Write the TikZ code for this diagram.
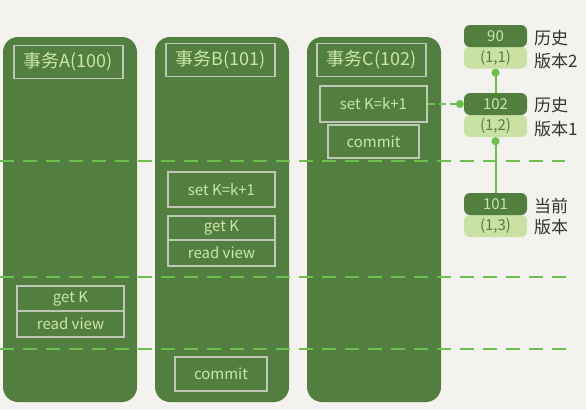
\documentclass[tikz,border=0pt]{standalone}
\usepackage{fontspec}
\setmainfont{Noto Sans CJK SC}
\usetikzlibrary{arrows.meta}
\definecolor{bg}{HTML}{F3F2EE}
\definecolor{colg}{HTML}{527F40}
\definecolor{dashg}{HTML}{6DBF4F}
\definecolor{lightt}{HTML}{CBE6A6}
\definecolor{boxline}{HTML}{BFC8B6}
\definecolor{verl}{HTML}{C9E1A3}
\definecolor{labelt}{HTML}{333333}
\begin{document}
\begin{tikzpicture}[x=1pt,y=-1pt,
  colbox/.style={fill=colg, rounded corners=15pt, minimum width=134pt, minimum height=365pt, inner sep=0pt},
  tbox/.style={draw=boxline, line width=1.3pt, text=lightt, inner sep=0pt, font=\fontsize{15}{17}\selectfont},
  titlebox/.style={tbox, minimum width=109pt, minimum height=33pt, font=\fontsize{18}{20}\selectfont},
  sepline/.style={draw=dashg, line width=1.8pt, dash pattern=on 14pt off 9pt},
  verdark/.style={fill=colg, text=lightt, rounded corners=6pt, minimum width=63pt, minimum height=22pt, inner sep=0pt, font=\fontsize{15}{16}\selectfont},
  verlight/.style={fill=verl, text=colg, rounded corners=6pt, minimum width=63pt, minimum height=22pt, inner sep=0pt, font=\fontsize{15}{16}\selectfont},
  verlabel/.style={anchor=west, text=labelt, inner sep=0pt, font=\fontsize{17}{19}\selectfont},
  conn/.style={draw=dashg, line width=2pt, -{Circle[length=8pt]}}
]
\fill[bg] (0,0) rectangle (586,410);
\useasboundingbox (0,0) rectangle (586,410);

% columns
\node[colbox] (colA) at (70,219.5) {};
\node[colbox] (colB) at (222,219.5) {};
\node[colbox] (colC) at (374,219.5) {};

% titles
\node[titlebox] (tA) at (68.5,62) {事务A(100)};
\node[titlebox] (tB) at (220.5,60) {事务B(101)};
\node[titlebox] (tC) at (371.5,60) {事务C(102)};

% column C
\node[tbox, minimum width=107pt, minimum height=36pt] (cset) at (373.5,104) {set K=k+1};
\node[tbox, minimum width=91pt, minimum height=33pt] (ccommit) at (373.5,141.5) {commit};

% column B
\node[tbox, minimum width=107pt, minimum height=35pt] (bset) at (221.5,189.5) {set K=k+1};
\node[tbox, minimum width=107pt, minimum height=24pt] (bget) at (221.5,228) {get K};
\node[tbox, minimum width=107pt, minimum height=26pt] (bread) at (221.5,253) {read view};
\node[tbox, minimum width=92pt, minimum height=34pt] (bcommit) at (221,374) {commit};

% column A
\node[tbox, minimum width=107pt, minimum height=25pt] (aget) at (70.5,298.5) {get K};
\node[tbox, minimum width=107pt, minimum height=26pt] (aread) at (70.5,324) {read view};

% separators
\coordinate (s1a) at (0,161); \coordinate (s1b) at (565,161);
\coordinate (s2a) at (0,277); \coordinate (s2b) at (567,277);
\coordinate (s3a) at (0,349); \coordinate (s3b) at (567,349);
\path[sepline] (s1a) -- (s1b);
\path[sepline] (s2a) -- (s2b);
\path[sepline] (s3a) -- (s3b);

% versions
\node[verlight] (v11) at (495.5,57.5) {(1,1)};
\node[verdark] (v90) at (495.5,36) {90};
\node[verlight] (v12) at (495.5,126) {(1,2)};
\node[verdark] (v102) at (495.5,104) {102};
\node[verlight] (v13) at (495.5,226) {(1,3)};
\node[verdark] (v101) at (495.5,204) {101};

\node[verlabel] (l1a) at (534,38) {历史};
\node[verlabel] (l1b) at (534,61) {版本2};
\node[verlabel] (l2a) at (534,105) {历史};
\node[verlabel] (l2b) at (534,129) {版本1};
\node[verlabel] (l3a) at (534,206) {当前};
\node[verlabel] (l3b) at (534,227) {版本};

% connectors
\draw[conn] (v101.north) -- (v12.south);
\draw[conn] (v102.north) -- (v11.south);
\draw[conn, dash pattern=on 7pt off 4pt] (cset.east) -- (v102.west);
\end{tikzpicture}
\end{document}
